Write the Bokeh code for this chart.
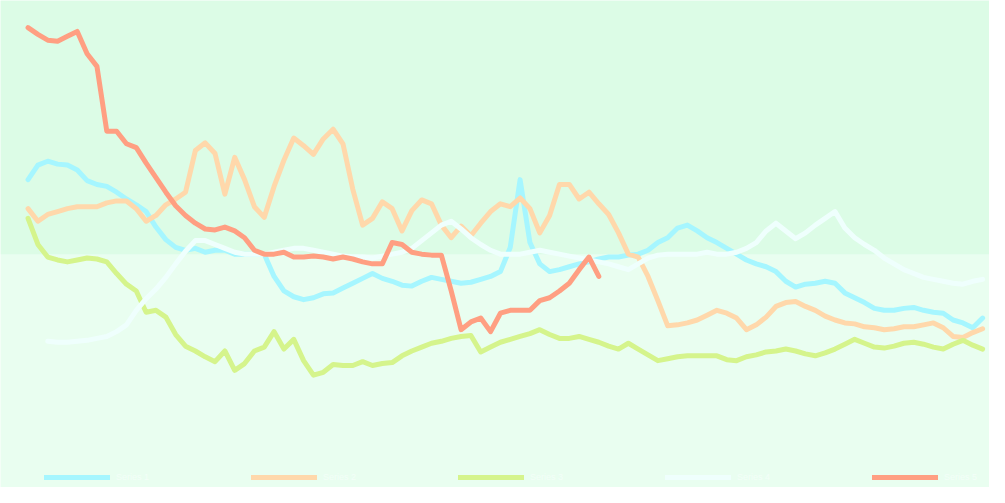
from bokeh.plotting import figure
from bokeh.models import BoxAnnotation, Legend, LegendItem, Range1d
from bokeh.embed import file_html
from bokeh.resources import INLINE

# ---- data ----
series_names = ["Series 1", "Series 2", "Series 3", "Series 4", "Series 5"]
series_colors = ["#a6f6ff", "#ffd8ab", "#d5f48c", "#effffd", "#ff9f82"]

cyan_vals = [63.6, 66.6, 67.4, 66.8, 66.6, 65.6, 63.4, 62.6, 62.2, 61.0, 59.6, 58.4, 57.0, 53.8, 51.2,
             49.6, 49.0, 49.4, 48.6, 49.0, 49.0, 48.2, 48.2, 48.2, 48.2, 43.6, 40.6, 39.4, 38.8, 39.2,
             40.0, 40.2, 41.2, 42.2, 43.2, 44.2, 43.2, 42.6, 41.8, 41.6, 42.6, 43.4, 43.0, 42.6, 42.2,
             42.4, 43.0, 43.6, 44.6, 49.6, 63.6, 50.6, 46.2, 44.6, 45.0, 45.6, 46.2, 46.6, 47.2, 47.6,
             47.6, 48.0, 48.2, 49.0, 50.6, 51.6, 53.6, 54.2, 53.0, 51.6, 50.6, 49.4, 48.2, 47.0, 46.2,
             45.6, 44.6, 42.6, 41.4, 42.0, 42.2, 42.6, 42.2, 40.2, 39.2, 38.2, 37.0, 36.6, 36.6, 37.0,
             37.2, 36.6, 36.2, 36.0, 34.6, 34.0, 33.0, 35.0]

peach_vals = [57.6, 55.0, 56.4, 57.0, 57.6, 58.0, 58.0, 58.0, 58.8, 59.2, 59.2, 57.6, 55.0, 56.2, 58.4,
              59.6, 61.0, 69.6, 71.2, 69.0, 60.6, 68.2, 63.6, 58.0, 55.8, 62.2, 67.6, 72.2, 70.6, 68.8,
              72.0, 74.0, 71.0, 61.6, 54.2, 55.6, 59.0, 57.6, 53.0, 57.2, 59.4, 58.6, 54.2, 51.6, 54.0,
              52.0, 54.6, 57.0, 58.6, 58.0, 59.8, 57.6, 52.6, 56.2, 62.6, 62.6, 59.6, 61.0, 58.6, 56.4,
              52.6, 48.2, 47.6, 43.6, 38.6, 33.4, 33.6, 34.0, 34.6, 35.6, 36.6, 36.0, 35.0, 32.6, 33.6,
              35.2, 37.4, 38.2, 38.4, 37.4, 36.6, 35.4, 34.6, 34.0, 33.8, 33.2, 33.0, 32.6, 32.8, 33.2,
              33.2, 33.6, 34.0, 33.0, 31.2, 31.0, 32.0, 32.8]

green_vals = [55.6, 50.2, 47.6, 47.0, 46.6, 47.0, 47.4, 47.2, 46.6, 44.2, 42.0, 40.6, 36.2, 36.6, 35.2,
              31.6, 29.2, 28.2, 27.0, 26.0, 28.2, 24.2, 25.6, 28.2, 29.0, 32.2, 28.6, 30.6, 26.2, 23.2,
              23.8, 25.4, 25.2, 25.2, 26.0, 25.2, 25.6, 25.8, 27.2, 28.2, 29.0, 29.8, 30.2, 30.8, 31.2,
              31.4, 28.0, 29.0, 30.0, 30.6, 31.2, 31.8, 32.6, 31.6, 30.8, 30.8, 31.2, 30.6, 30.0, 29.2,
              28.6, 29.8, 28.6, 27.4, 26.2, 26.6, 27.0, 27.2, 27.2, 27.2, 27.2, 26.4, 26.2, 27.0, 27.4,
              28.0, 28.2, 28.6, 28.2, 27.6, 27.2, 27.8, 28.6, 29.6, 30.6, 29.8, 29.0, 28.8, 29.2, 29.8,
              30.0, 29.6, 29.0, 28.6, 29.6, 30.4, 29.4, 28.6]

white_vals = [30.2, 30.0, 30.0, 30.2, 30.4, 30.8, 31.2, 32.2, 33.6, 36.6, 39.0, 41.0, 43.4, 46.2, 48.8,
              51.0, 51.0, 50.2, 49.4, 48.6, 48.2, 48.2, 48.2, 48.6, 49.0, 49.4, 49.4, 49.0, 48.6, 48.2,
              47.8, 47.6, 47.6, 47.4, 47.8, 48.2, 48.6, 49.4, 51.0, 52.6, 54.2, 55.0, 53.4, 51.6, 50.2,
              49.0, 48.2, 48.2, 48.2, 48.6, 49.0, 48.6, 48.2, 47.8, 47.4, 47.0, 46.6, 46.2, 45.6, 45.0,
              46.2, 47.4, 48.0, 48.2, 48.2, 48.2, 48.2, 48.6, 48.2, 48.2, 48.6, 49.4, 50.6, 53.0, 54.6,
              53.0, 51.4, 52.6, 54.2, 55.6, 57.0, 53.6, 51.6, 50.2, 49.0, 47.4, 46.2, 45.0, 44.2, 43.4,
              43.0, 42.6, 42.2, 42.0, 42.6, 43.0]
white_start = 2

salmon_vals = [95.0, 93.6, 92.4, 92.2, 93.2, 94.2, 89.6, 87.0, 73.6, 73.6, 71.0, 70.2, 67.0, 64.0, 61.0,
               58.2, 56.2, 54.6, 53.4, 53.2, 53.8, 53.0, 51.6, 49.0, 48.2, 48.2, 48.6, 47.6, 47.6, 47.8,
               47.6, 47.2, 47.6, 47.2, 46.6, 46.2, 46.2, 50.6, 50.2, 48.6, 48.2, 48.0, 48.0, 40.6, 32.6,
               34.2, 35.0, 32.2, 36.0, 36.6, 36.6, 36.6, 38.6, 39.2, 40.6, 42.2, 45.0, 47.6, 43.6]

band_split = 48.2
x_min, x_max = -2.8, 97.7
y_min, y_max = 0.0, 100.6

# ---- figure ----
p = figure(width=989, height=487, output_backend="svg", toolbar_location=None,
           x_range=Range1d(x_min, x_max), y_range=Range1d(y_min, y_max),
           min_border=0, min_border_left=0, min_border_right=0,
           min_border_top=0, min_border_bottom=0)
p.background_fill_color = "#e9fef0"
p.border_fill_color = "#e9fef0"
p.outline_line_color = None
p.xgrid.visible = False
p.ygrid.visible = False
p.xaxis.visible = False
p.yaxis.visible = False

p.add_layout(BoxAnnotation(bottom=band_split, fill_color="#dcfce6", fill_alpha=1.0,
                           line_color=None, level="underlay"))

all_vals = [cyan_vals, peach_vals, green_vals, white_vals, salmon_vals]
starts = [0, 0, 0, white_start, 0]
items = []
for name, color, vals, s in zip(series_names, series_colors, all_vals, starts):
    xs = list(range(s, s + len(vals)))
    r = p.line(xs, vals, line_color=color, line_width=5, line_join="round", line_cap="round")
    items.append(LegendItem(label=name, renderers=[r]))

legend = Legend(items=items, orientation="horizontal", location=(44, 5),
                glyph_width=66, glyph_height=8, label_standoff=6, label_width=118,
                spacing=17, padding=0, margin=0,
                label_text_font_size="9px", label_text_color="#f3fff8",
                background_fill_alpha=0, border_line_color=None)
p.add_layout(legend)

html = file_html(p, INLINE)
html = html.replace("<body>", '<body style="background: linear-gradient(#dcfce6 52%, #e9fef0 52%);">', 1)
open("out.html", "w").write(html)
